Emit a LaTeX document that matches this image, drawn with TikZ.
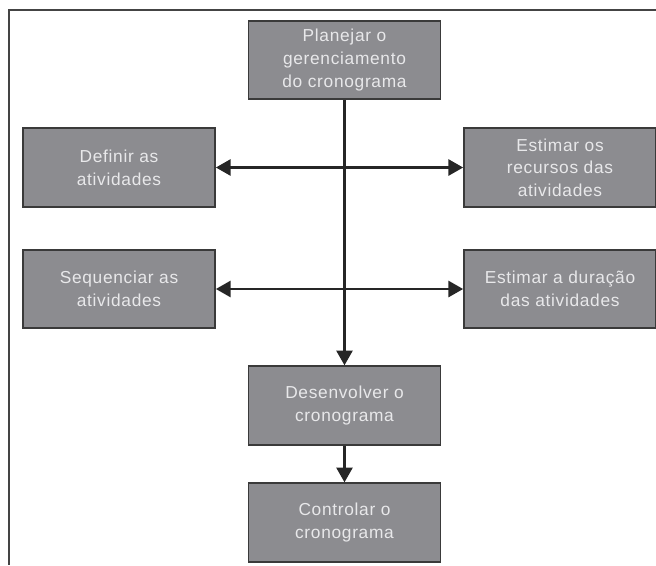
\documentclass[tikz,border=0pt]{standalone}
\usepackage{fontspec}
\setmainfont{Liberation Sans}[LetterSpace=4]
\usetikzlibrary{arrows.meta}
\definecolor{boxfill}{HTML}{8C8C90}
\definecolor{boxline}{HTML}{3A3A3A}
\definecolor{boxtext}{HTML}{E8E8EA}
\definecolor{frameline}{HTML}{444444}
\tikzset{
  procbox/.style={draw=boxline, line width=1.3pt, fill=boxfill, text=boxtext,
    minimum width=144pt, minimum height=59pt, align=center, inner sep=0pt,
    font=\fontsize{13pt}{17pt}\selectfont},
  flow/.style={line width=1.8pt, draw=black!85, -{Triangle[length=11pt,width=12pt]}},
  flowboth/.style={line width=1.8pt, draw=black!85, {Triangle[length=11pt,width=12pt]}-{Triangle[length=11pt,width=12pt]}},
  frame/.style={line width=0.9pt, draw=frameline}
}
\begin{document}
\begin{tikzpicture}[x=0.75pt, y=-0.75pt]
\useasboundingbox (0,0) rectangle (656,565);
\coordinate (ftl) at (9,10);
\coordinate (ftr) at (656,10);
\coordinate (fbl) at (9,565);
\draw[frame] (ftr) -- (ftl) -- (fbl);

\node[procbox] (plan) at (344.5,60) {Planejar o\\gerenciamento\\do cronograma};
\node[procbox] (def) at (119,167.5) {Definir as\\atividades};
\node[procbox] (rec) at (560,167.5) {Estimar os\\recursos das\\atividades};
\node[procbox] (seq) at (119,289) {Sequenciar as\\atividades};
\node[procbox] (dur) at (560,289) {Estimar a duração\\das atividades};
\node[procbox] (dev) at (344.5,405.5) {Desenvolver o\\cronograma};
\node[procbox] (ctl) at (344.5,522.5) {Controlar o\\cronograma};

\draw[flow] (plan) -- (dev);
\draw[flowboth] (def) -- (rec);
\draw[flowboth] (seq) -- (dur);
\draw[flow] (dev) -- (ctl);
\end{tikzpicture}
\end{document}
